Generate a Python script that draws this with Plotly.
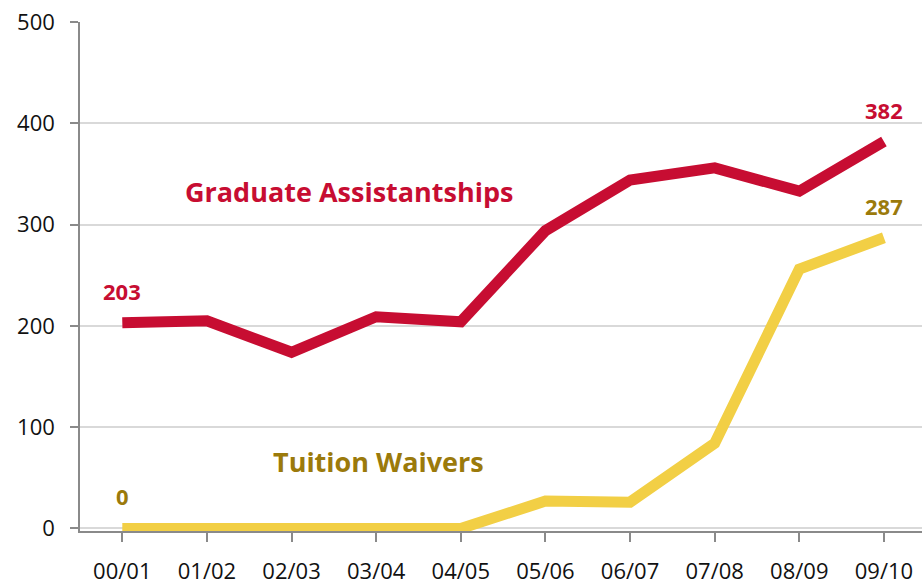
import plotly.graph_objects as go

years = ["00/01", "01/02", "02/03", "03/04", "04/05", "05/06", "06/07", "07/08", "08/09", "09/10"]
grad_assist = [203, 205, 174, 209, 204, 294, 344, 356, 333, 382]
tuition_waivers = [0, 0, 0, 0, 0, 27, 26, 84, 256, 287]
y_ticks = [0, 100, 200, 300, 400, 500]

RED = "#C70D32"
YELLOW = "#F2CF45"
GOLD = "#9B7A0B"
FONT = "Open Sans"

fig = go.Figure()
fig.add_trace(go.Scatter(x=list(range(len(years))), y=tuition_waivers, mode="lines",
                         line=dict(color=YELLOW, width=11), hoverinfo="skip"))
fig.add_trace(go.Scatter(x=list(range(len(years))), y=grad_assist, mode="lines",
                         line=dict(color=RED, width=11), hoverinfo="skip"))

# endpoint value labels
for series, color in ((grad_assist, RED), (tuition_waivers, GOLD)):
    for i in (0, len(series) - 1):
        fig.add_annotation(x=i, y=series[i], text=f"<b>{series[i]}</b>", showarrow=False,
                           yshift=32, font=dict(family=FONT, size=22, color=color))

fig.add_annotation(x=2.68, y=333, text="<b>Graduate Assistantships</b>", showarrow=False,
                   font=dict(family=FONT, size=27, color=RED))
fig.add_annotation(x=3.03, y=66, text="<b>Tuition Waivers</b>", showarrow=False,
                   font=dict(family=FONT, size=27, color=GOLD))

fig.update_layout(
    width=922, height=584,
    margin=dict(l=80, r=0, t=22, b=53),
    plot_bgcolor="white", paper_bgcolor="white",
    showlegend=False,
    font=dict(family=FONT, size=22, color="#111111"),
    xaxis=dict(
        tickmode="array", tickvals=list(range(len(years))), ticktext=years,
        range=[-0.5, 9.45], showgrid=False, showline=True, linecolor="#8a8a8a", linewidth=1.5,
        ticks="outside", tickson="boundaries", ticklen=9, tickcolor="#8a8a8a", tickwidth=1.5,
        ticklabelstandoff=11, zeroline=False, automargin=False,
    ),
    yaxis=dict(
        tickvals=y_ticks, range=[-2.5, 500], showgrid=True, gridcolor="#d9d9d9", gridwidth=1.5,
        showline=True, linecolor="#8a8a8a", linewidth=1.5,
        ticks="outside", ticklen=8, tickcolor="#8a8a8a", tickwidth=1.5,
        ticklabelstandoff=11, zeroline=False, automargin=False,
    ),
)

fig.write_html("out.html", config={"displayModeBar": False},
               post_script="document.body.style.margin='0';document.body.style.overflow='hidden';")
